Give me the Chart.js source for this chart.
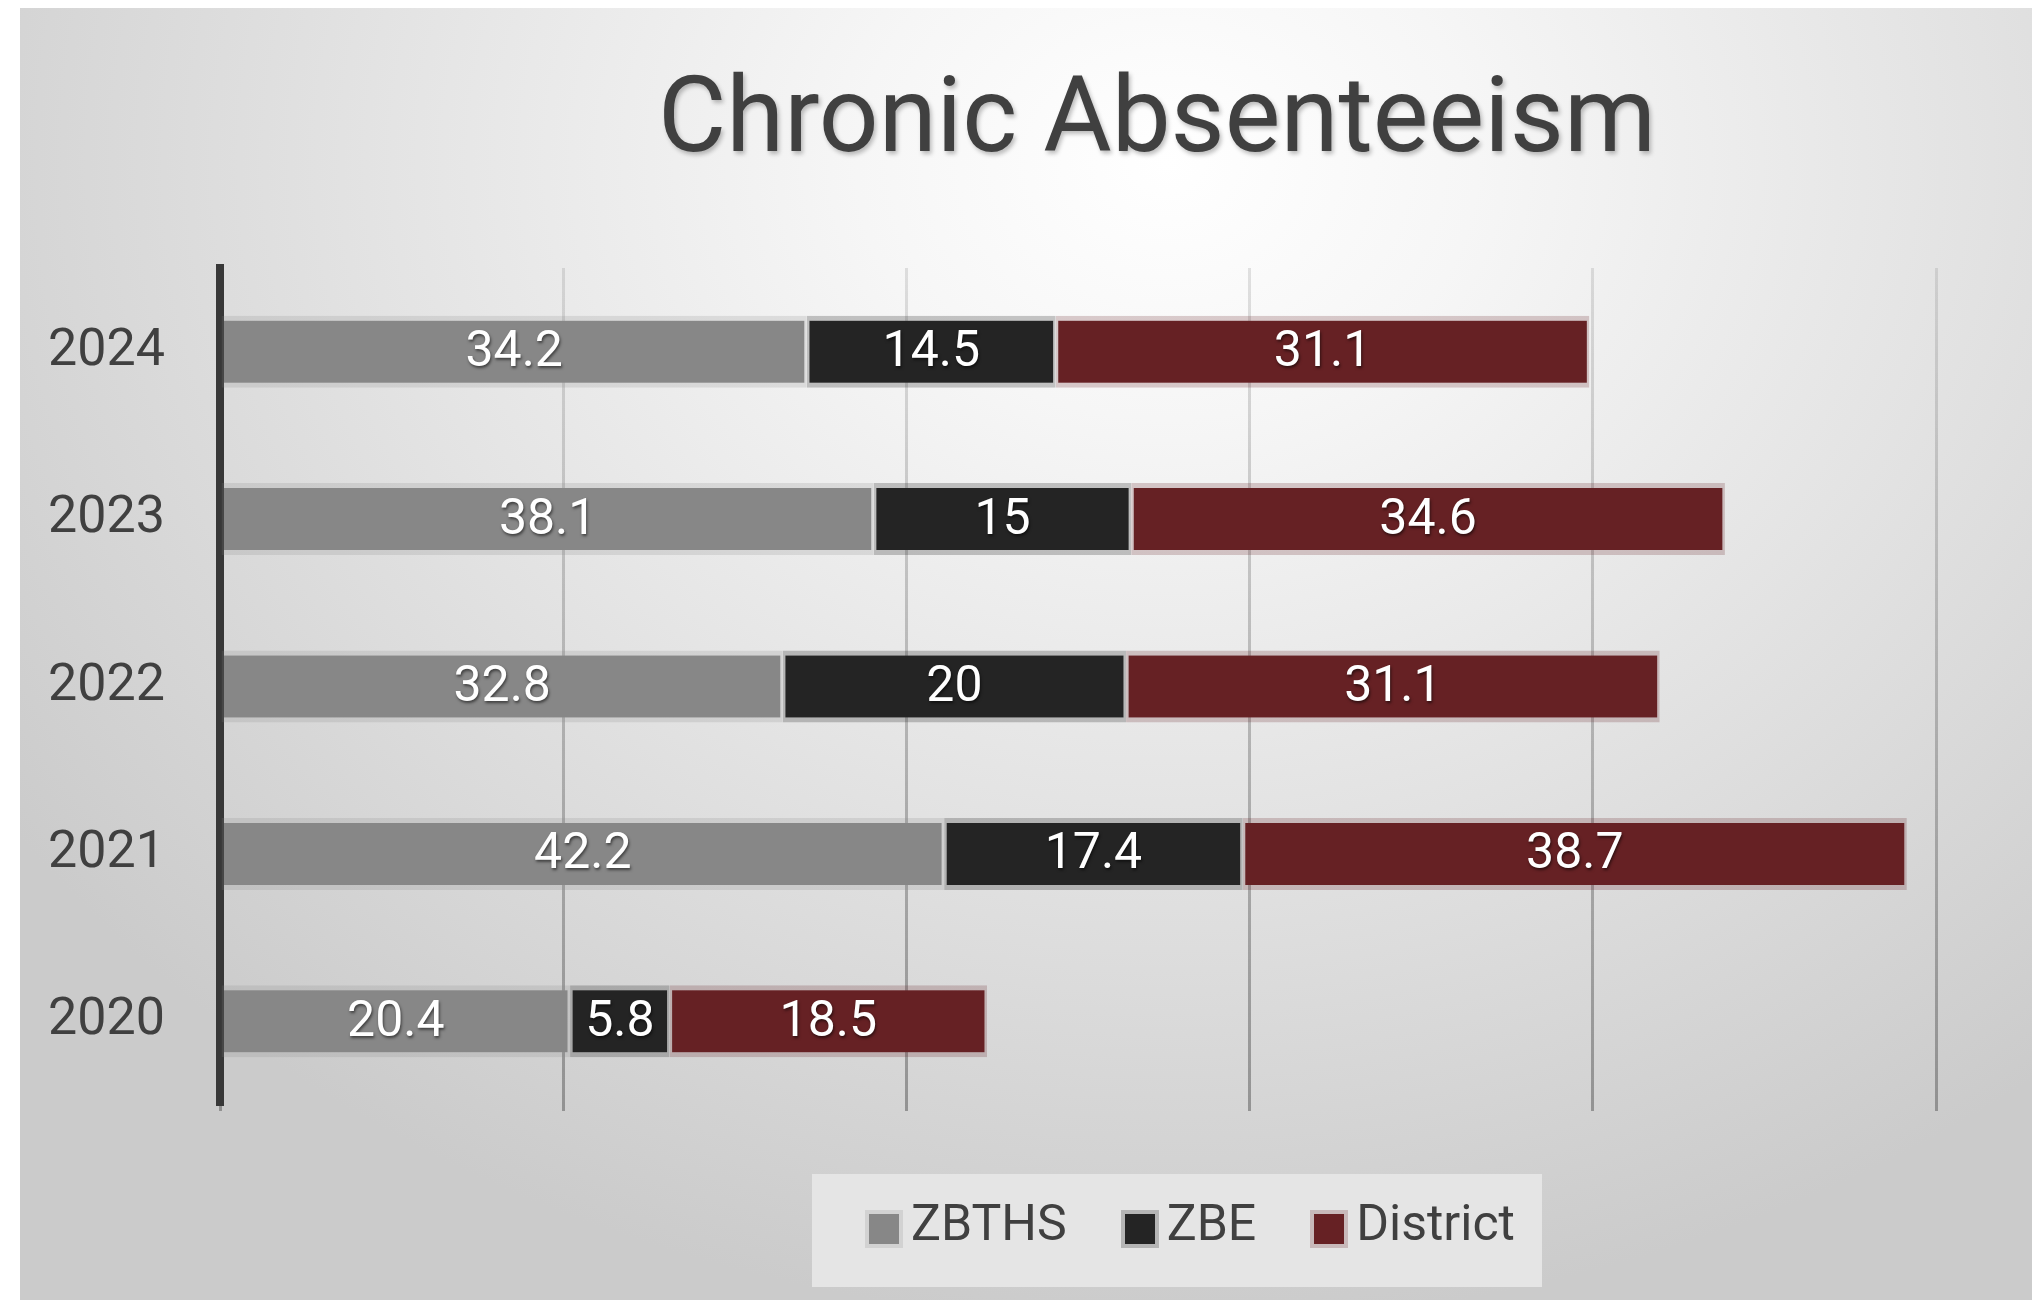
<!DOCTYPE html>
<html>
<head>
<meta charset="utf-8">
<title>Chronic Absenteeism</title>
<script src="https://cdn.jsdelivr.net/npm/chart.js@4.4.1/dist/chart.umd.min.js"></script>
<style>
  html, body { margin: 0; padding: 0; background: #fff; }
  #frame {
    position: absolute; left: 20px; top: 8px; width: 2012px; height: 1292px; overflow: hidden;
    background: radial-gradient(ellipse 70% 90% at 57% 12%, #ffffff 0%, #f6f6f6 22%, #e4e4e4 55%, #cbcbcb 100%);
    font-family: Roboto, "Liberation Sans", sans-serif;
  }
  #title {
    position: absolute; left: 537px; width: 1200px; top: 55px; text-align: center;
    font-size: 105px; line-height: 1; color: #404040;
    text-shadow: 2px 3px 4px rgba(0,0,0,0.25);
  }
  #chartBox { position: absolute; left: 0; top: 0; width: 2012px; height: 1292px; }
  #legend {
    position: absolute; left: 792px; top: 1166px; width: 730px; height: 113px;
    background: #e5e5e5; box-sizing: border-box; padding-left: 26px; padding-bottom: 16px;
    display: flex; align-items: center; justify-content: center;
  }
  .item { display: flex; align-items: center; margin: 0 27px; }
  .swatch { width: 30px; height: 30px; border: 4px solid transparent; background-clip: padding-box; margin-right: 8px; margin-top: 12px; }
  .label { font-size: 50px; line-height: 1; color: #404040; }
</style>
</head>
<body>
<div id="frame">
  <div id="title">Chronic Absenteeism</div>
  <div id="chartBox"><canvas id="absChart"></canvas></div>
  <div id="legend"></div>
</div>
<script>
const years = ["2024", "2023", "2022", "2021", "2020"];
const zbths = [34.2, 38.1, 32.8, 42.2, 20.4];
const zbe = [14.5, 15, 20, 17.4, 5.8];
const district = [31.1, 34.6, 31.1, 38.7, 18.5];
const seriesNames = ["ZBTHS", "ZBE", "District"];
const seriesColors = ["#878787", "#242424", "#662124"];
const seriesEdges = ["rgba(135,135,135,0.2)", "rgba(36,36,36,0.25)", "rgba(102,33,36,0.22)"];

const seriesValues = [zbths, zbe, district];

// white value labels centred in each segment
const barLabels = {
    id: "barLabels",
    afterDatasetsDraw(chart) {
        const ctx = chart.ctx;
        ctx.save();
        ctx.font = '50px Roboto, "Liberation Sans", sans-serif';
        ctx.fillStyle = "#ffffff";
        ctx.textAlign = "center";
        ctx.textBaseline = "middle";
        ctx.shadowColor = "rgba(0,0,0,0.55)";
        ctx.shadowOffsetX = 1;
        ctx.shadowOffsetY = 2;
        ctx.shadowBlur = 3;
        chart.data.datasets.forEach((ds, i) => {
            chart.getDatasetMeta(i).data.forEach((bar, j) => {
                const p = bar.getCenterPoint();
                ctx.fillText(String(ds.data[j]), p.x, p.y + 2);
            });
        });
        ctx.restore();
    }
};

const gridColor = (c) => {
    const area = c.chart.chartArea;
    if (!area) return "rgba(130,130,130,0.4)";
    const g = c.chart.ctx.createLinearGradient(0, area.top, 0, area.bottom);
    g.addColorStop(0, "rgba(130,130,130,0.22)");
    g.addColorStop(1, "rgba(120,120,120,0.7)");
    return g;
};

const datasets = seriesNames.map((name, i) => ({
    label: name,
    data: seriesValues[i],
    backgroundColor: seriesColors[i],
    borderColor: seriesEdges[i],
    borderWidth: { top: 5, bottom: 5, left: 2.5, right: 2.5 },
    borderSkipped: false,
    barPercentage: 0.43,
    categoryPercentage: 1
}));

const chart = new Chart(document.getElementById("absChart"), {
    type: "bar",
    data: { labels: years, datasets: datasets },
    options: {
        indexAxis: "y",
        responsive: true,
        maintainAspectRatio: false,
        animation: false,
        layout: { padding: { top: 260, right: 96, bottom: 195, left: 0 } },
        plugins: {
            legend: { display: false },
            title: { display: false },
            tooltip: { enabled: false }
        },
        scales: {
            x: {
                stacked: true,
                min: 0,
                max: 100,
                ticks: { display: false, stepSize: 20 },
                grid: { color: gridColor, lineWidth: 3, tickLength: 6 },
                border: { display: false },
                afterFit: (s) => { s.height = 0; }
            },
            y: {
                stacked: true,
                ticks: {
                    color: "#404040",
                    padding: 55,
                    font: { size: 52, family: 'Roboto, "Liberation Sans", sans-serif' }
                },
                grid: { display: false, drawTicks: false },
                border: { display: true, color: "#383838", width: 8 },
                afterFit: (s) => { s.width = 200; }
            }
        }
    },
    plugins: [barLabels]
});

// legend built from the same series lists
const legend = document.getElementById("legend");
seriesNames.forEach((name, i) => {
    const item = document.createElement("div");
    item.className = "item";
    const sw = document.createElement("span");
    sw.className = "swatch";
    sw.style.backgroundColor = seriesColors[i];
    sw.style.borderColor = seriesEdges[i];
    const tx = document.createElement("span");
    tx.className = "label";
    tx.textContent = name;
    item.appendChild(sw);
    item.appendChild(tx);
    legend.appendChild(item);
});
</script>
</body>
</html>
